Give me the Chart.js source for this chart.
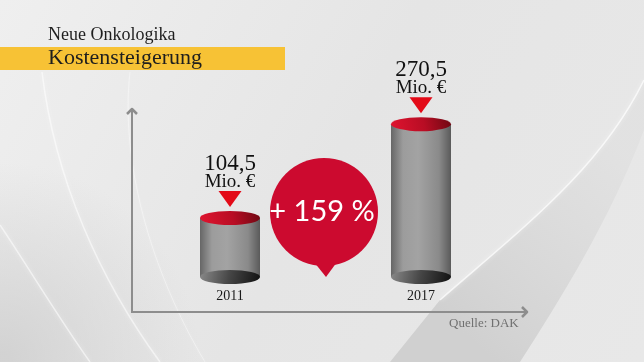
<!DOCTYPE html>
<html>
<head>
<meta charset="utf-8">
<script src="https://cdn.jsdelivr.net/npm/chart.js@4"></script>
<style>
  html, body { margin: 0; padding: 0; background: #e8e8e8; }
  #wrap { width: 644px; height: 362px; }
</style>
</head>
<body>
<div id="wrap"><canvas id="chart" width="644" height="362"></canvas></div>
<script>
// Daten
const years = ['2011', '2017'];
const costs = [104.5, 270.5];
const valueLabels = ['104,5', '270,5'];
const unitLabel = 'Mio. €';
const changeLabel = '+ 159 %';
const titleTop = 'Neue Onkologika';
const titleMain = 'Kostensteigerung';
const sourceLabel = 'Quelle: DAK';

const SERIF = '"Liberation Serif", "DejaVu Serif", serif';
const SANS = 'Lato, "Open Sans", sans-serif';

// Hintergrund mit "Swooshes"
const backgroundPlugin = {
    id: 'bg',
    beforeDraw(chart) {
        const ctx = chart.ctx;
        const W = chart.width, H = chart.height;
        ctx.save();
        const g = ctx.createLinearGradient(0, 0, W, H);
        g.addColorStop(0, '#efefef');
        g.addColorStop(0.5, '#e5e5e5');
        g.addColorStop(1, '#e8e8e8');
        ctx.fillStyle = g;
        ctx.fillRect(0, 0, W, H);

        // linke untere Ecke etwas dunkler
        const gl = ctx.createRadialGradient(0, 362, 10, 0, 362, 200);
        gl.addColorStop(0, 'rgba(205,205,205,0.8)');
        gl.addColorStop(1, 'rgba(205,205,205,0)');
        ctx.fillStyle = gl;
        ctx.fillRect(0, 160, 220, 202);

        // rechtes dunkles Band
        ctx.beginPath();
        ctx.moveTo(440, 300);
        ctx.bezierCurveTo(520, 230, 600, 170, 644, 80);
        ctx.lineTo(644, 130);
        ctx.bezierCurveTo(610, 220, 560, 300, 520, 362);
        ctx.lineTo(390, 362);
        ctx.closePath();
        const gr = ctx.createLinearGradient(460, 330, 620, 150);
        gr.addColorStop(0, 'rgba(208,208,208,1)');
        gr.addColorStop(1, 'rgba(222,222,222,0.6)');
        ctx.fillStyle = gr;
        ctx.fill();

        // helle Linien
        ctx.strokeStyle = 'rgba(255,255,255,0.7)';
        ctx.lineWidth = 1.5;
        ctx.shadowColor = 'rgba(255,255,255,0.9)';
        ctx.shadowBlur = 5;
        ctx.beginPath();
        ctx.moveTo(440, 300);
        ctx.bezierCurveTo(520, 230, 600, 170, 644, 80);
        ctx.stroke();

        ctx.strokeStyle = 'rgba(255,255,255,0.55)';
        ctx.beginPath();
        ctx.moveTo(42, 72);
        ctx.bezierCurveTo(55, 180, 100, 280, 160, 362);
        ctx.stroke();
        ctx.beginPath();
        ctx.moveTo(0, 225);
        ctx.bezierCurveTo(30, 270, 60, 320, 90, 362);
        ctx.stroke();
        ctx.lineWidth = 1;
        ctx.strokeStyle = 'rgba(255,255,255,0.4)';
        ctx.beginPath();
        ctx.moveTo(130, 72);
        ctx.bezierCurveTo(120, 160, 150, 270, 205, 362);
        ctx.stroke();
        ctx.restore();
    }
};

// Titel, Achsen, Zylinder, Beschriftungen
const overlayPlugin = {
    id: 'overlay',
    afterDatasetsDraw(chart) {
        const ctx = chart.ctx;
        ctx.save();

        // Titel
        ctx.fillStyle = '#f7c235';
        ctx.fillRect(0, 47, 285, 23);
        ctx.fillStyle = '#1e1e1e';
        ctx.textAlign = 'left';
        ctx.textBaseline = 'alphabetic';
        ctx.font = '18px ' + SERIF;
        ctx.fillText(titleTop, 48, 40);
        ctx.font = '22px ' + SERIF;
        ctx.fillText(titleMain, 48, 64);

        // Achsen
        const ax = 132, ay = 312, top = 109, right = 527;
        ctx.strokeStyle = '#8d8d8d';
        ctx.lineWidth = 2;
        ctx.beginPath();
        ctx.moveTo(ax, top + 1);
        ctx.lineTo(ax, ay);
        ctx.lineTo(right - 1, ay);
        ctx.stroke();
        ctx.lineWidth = 2.5;
        ctx.lineJoin = 'round';
        ctx.beginPath();
        ctx.moveTo(ax - 5, top + 5);
        ctx.lineTo(ax, top);
        ctx.lineTo(ax + 5, top + 5);
        ctx.stroke();
        ctx.beginPath();
        ctx.moveTo(right - 5, ay - 5);
        ctx.lineTo(right, ay);
        ctx.lineTo(right - 5, ay + 5);
        ctx.stroke();

        // Zylinder
        const meta = chart.getDatasetMeta(0);
        meta.data.forEach((bar, i) => {
            const { x, y, base, width } = bar.getProps(['x', 'y', 'base', 'width'], true);
            const l = x - width / 2, r = x + width / 2;
            const ry = 7;

            const body = ctx.createLinearGradient(l, 0, r, 0);
            body.addColorStop(0, '#666');
            body.addColorStop(0.2, '#9c9c9c');
            body.addColorStop(0.45, '#a3a3a3');
            body.addColorStop(0.8, '#8a8a8a');
            body.addColorStop(1, '#5a5a5a');
            ctx.fillStyle = body;
            ctx.fillRect(l, y, width, base - y);

            const bot = ctx.createLinearGradient(l, base - ry, r, base + ry);
            bot.addColorStop(0, '#8a8a8a');
            bot.addColorStop(0.5, '#444');
            bot.addColorStop(1, '#111');
            ctx.fillStyle = bot;
            ctx.beginPath();
            ctx.ellipse(x, base, width / 2, ry, 0, 0, Math.PI * 2);
            ctx.fill();

            const topG = ctx.createLinearGradient(l, y + ry, r, y - ry);
            topG.addColorStop(0, '#e0142f');
            topG.addColorStop(0.55, '#b80d24');
            topG.addColorStop(1, '#6e0812');
            ctx.fillStyle = topG;
            ctx.beginPath();
            ctx.ellipse(x, y, width / 2, ry, 0, 0, Math.PI * 2);
            ctx.fill();

            // Dreieck
            ctx.fillStyle = '#e30a17';
            ctx.beginPath();
            ctx.moveTo(x - 11.5, y - 27);
            ctx.lineTo(x + 11.5, y - 27);
            ctx.lineTo(x, y - 11);
            ctx.closePath();
            ctx.fill();

            // Werte
            ctx.fillStyle = '#111';
            ctx.textAlign = 'center';
            ctx.font = '23px ' + SERIF;
            ctx.fillText(valueLabels[i], x, y - 48);
            ctx.font = '19px ' + SERIF;
            ctx.fillText(unitLabel, x, y - 31);

            // Jahr
            ctx.font = '14px ' + SERIF;
            ctx.fillStyle = '#1a1a1a';
            ctx.fillText(years[i], x, 300);
        });

        // Sprechblase mit Steigerung
        const cx = 324, cy = 212, rad = 54;
        ctx.fillStyle = '#cc0a2f';
        ctx.beginPath();
        ctx.arc(cx, cy, rad, 0, Math.PI * 2);
        ctx.fill();
        ctx.beginPath();
        ctx.moveTo(314, 262);
        ctx.lineTo(337, 262);
        ctx.lineTo(326, 277);
        ctx.closePath();
        ctx.fill();
        ctx.fillStyle = '#ffffff';
        ctx.textAlign = 'center';
        ctx.font = '29px ' + SANS;
        ctx.fillText(changeLabel, cx - 2, 221);

        // Quelle
        ctx.fillStyle = '#707070';
        ctx.textAlign = 'left';
        ctx.font = '13px ' + SERIF;
        ctx.fillText(sourceLabel, 449, 327);

        ctx.restore();
    }
};

new Chart(document.getElementById('chart'), {
    type: 'bar',
    data: {
        labels: years,
        datasets: [{
            label: 'Kosten (Mio. €)',
            data: costs,
            backgroundColor: 'rgba(0,0,0,0)',
            barThickness: 60
        }]
    },
    options: {
        responsive: false,
        animation: false,
        layout: { padding: { left: 134.5, right: 127.5, top: 107.5, bottom: 85 } },
        scales: {
            x: { display: false },
            y: { display: false, min: 0, max: 300 }
        },
        plugins: {
            legend: { display: false },
            tooltip: { enabled: false },
            title: { display: false }
        }
    },
    plugins: [backgroundPlugin, overlayPlugin]
});
</script>
</body>
</html>
